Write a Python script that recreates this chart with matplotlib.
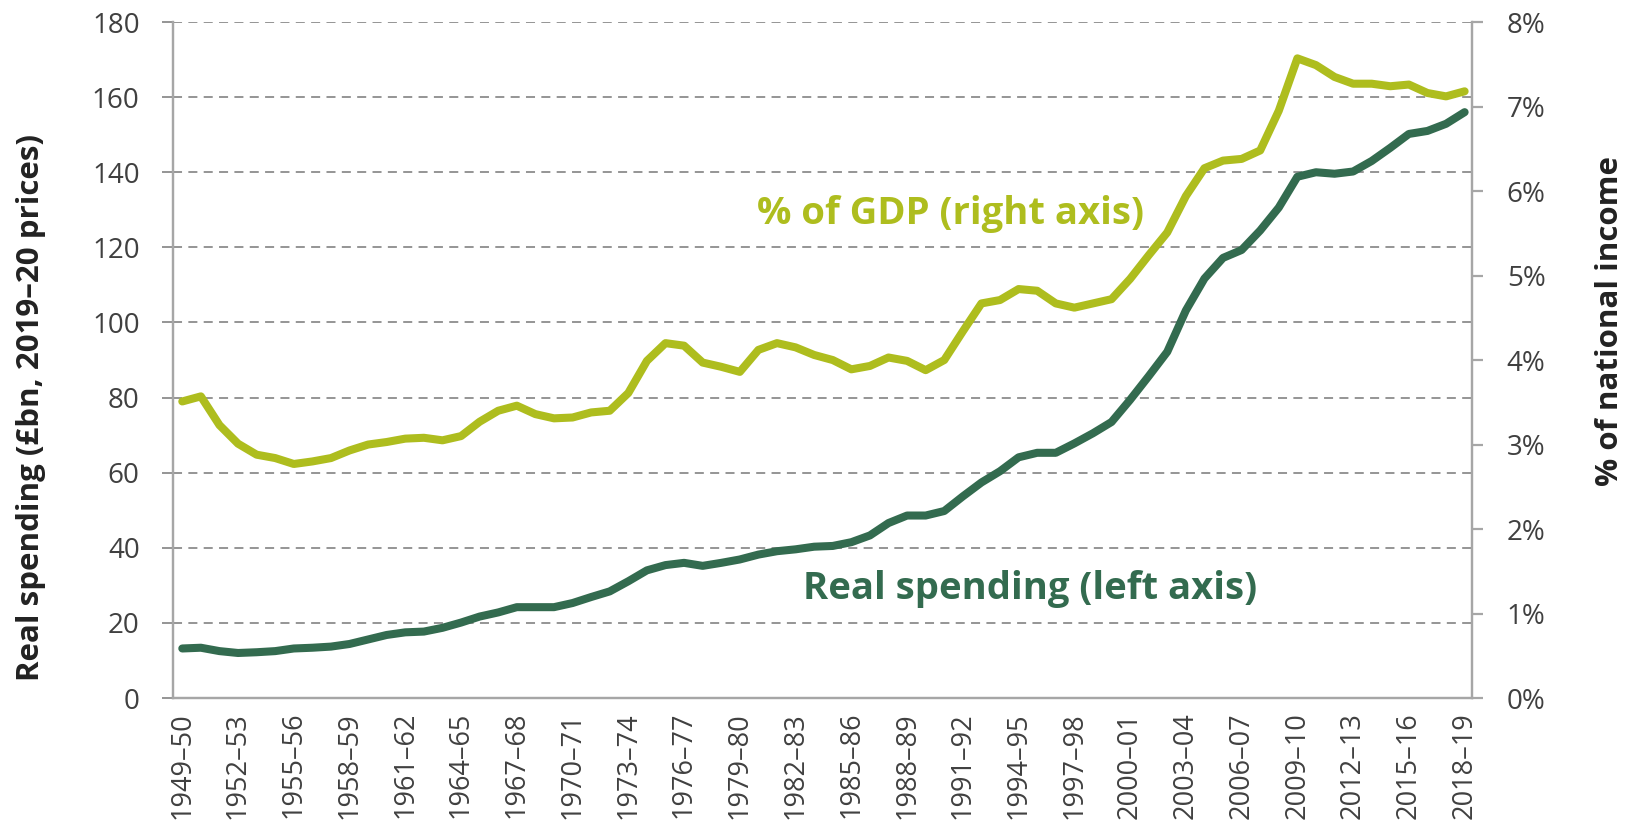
import matplotlib
matplotlib.use("Agg")
import matplotlib.pyplot as plt
from matplotlib.ticker import FuncFormatter

plt.rcParams['font.family'] = ['Open Sans', 'DejaVu Sans']

# financial years 1949-50 .. 2018-19
years = [f"{y}\u2013{str(y + 1)[-2:]}" for y in range(1949, 2019)]

# real spending, £bn 2019-20 prices (left axis)
real_spending = [13.2, 13.4, 12.5, 12.0, 12.2, 12.5, 13.2, 13.4, 13.7, 14.4,
                 15.6, 16.8, 17.5, 17.7, 18.7, 20.1, 21.7, 22.8, 24.2, 24.2,
                 24.2, 25.3, 26.9, 28.4, 31.1, 34.0, 35.4, 36.0, 35.2, 36.0,
                 36.9, 38.2, 39.1, 39.6, 40.3, 40.5, 41.5, 43.3, 46.6, 48.6,
                 48.6, 49.8, 53.7, 57.4, 60.4, 64.1, 65.3, 65.3, 67.8, 70.5,
                 73.5, 79.4, 85.7, 92.2, 103.2, 111.7, 117.2, 119.3, 124.5, 130.6,
                 138.8, 140.0, 139.6, 140.2, 143.0, 146.5, 150.2, 151.0, 152.9, 156.0]

# share of national income, % (right axis)
gdp_share = [3.51, 3.57, 3.23, 3.01, 2.88, 2.84, 2.77, 2.80, 2.84, 2.93,
             3.00, 3.03, 3.07, 3.08, 3.05, 3.10, 3.27, 3.40, 3.46, 3.36,
             3.31, 3.32, 3.38, 3.40, 3.61, 3.99, 4.20, 4.17, 3.97, 3.92,
             3.86, 4.12, 4.20, 4.15, 4.06, 4.00, 3.89, 3.93, 4.03, 3.99,
             3.88, 4.00, 4.34, 4.67, 4.71, 4.84, 4.82, 4.67, 4.62, 4.67,
             4.72, 4.96, 5.24, 5.51, 5.94, 6.27, 6.36, 6.38, 6.48, 6.95,
             7.57, 7.49, 7.35, 7.27, 7.27, 7.24, 7.26, 7.16, 7.12, 7.18]

dark = '#336b4f'
light = '#aebd1e'
grid_c = '#8c8c8c'
axis_c = '#a6a6a6'
text_c = '#404040'

fig = plt.figure(figsize=(16.32, 8.34), dpi=100)
ax = fig.add_axes([0.106, 0.163, 0.796, 0.8106])
ax2 = ax.twinx()

x = list(range(len(years)))
ax.plot(x, real_spending, color=dark, lw=5.8, solid_capstyle='round', zorder=3)
ax2.plot(x, gdp_share, color=light, lw=5.8, solid_capstyle='round', zorder=3)

ax.set_xlim(-0.5, 69.4)
ax.set_ylim(0, 180)
ax.set_yticks(range(0, 181, 20))
ax2.set_ylim(0, 8)
ax2.set_yticks(range(0, 9))
ax2.yaxis.set_major_formatter(FuncFormatter(lambda v, p: f"{int(v)}%"))

ax.set_xticks(x[::3])
ax.set_xticklabels(years[::3], rotation=90)

ax.grid(axis='y', color=grid_c, ls=(0, (5, 3.5)), lw=1.3)
ax.set_axisbelow(True)

for a in (ax, ax2):
    for s in a.spines.values():
        s.set_color(axis_c)
        s.set_linewidth(1.6)
    a.spines['top'].set_visible(False)

ax.tick_params(axis='y', length=8, width=1.3, color=grid_c, labelsize=20,
               labelcolor=text_c, pad=16)
ax.tick_params(axis='x', length=0, labelsize=19.5, labelcolor=text_c, pad=10)
ax2.tick_params(axis='y', length=8, width=1.6, color=axis_c, labelsize=20,
                labelcolor=text_c, pad=17)

ax.set_ylabel('Real spending (£bn, 2019\u201320 prices)', fontsize=22.5,
              fontweight='bold', color='#222222')
ax.yaxis.label.set_va('center')
ax.yaxis.set_label_coords(-0.109, 0.43)
ax2.set_ylabel('% of national income', fontsize=22.5, fontweight='bold',
               color='#222222', rotation=90)
ax2.yaxis.label.set_va('center')
ax2.yaxis.set_label_coords(1.106, 0.558)

ax.text(33.4, 29, 'Real spending (left axis)', color=dark, fontsize=27.5,
        fontweight='bold', va='center', ha='left')
ax2.text(30.9, 5.73, '% of GDP (right axis)', color=light, fontsize=27.5,
         fontweight='bold', va='center', ha='left')

fig.savefig('out.png', dpi=100)
